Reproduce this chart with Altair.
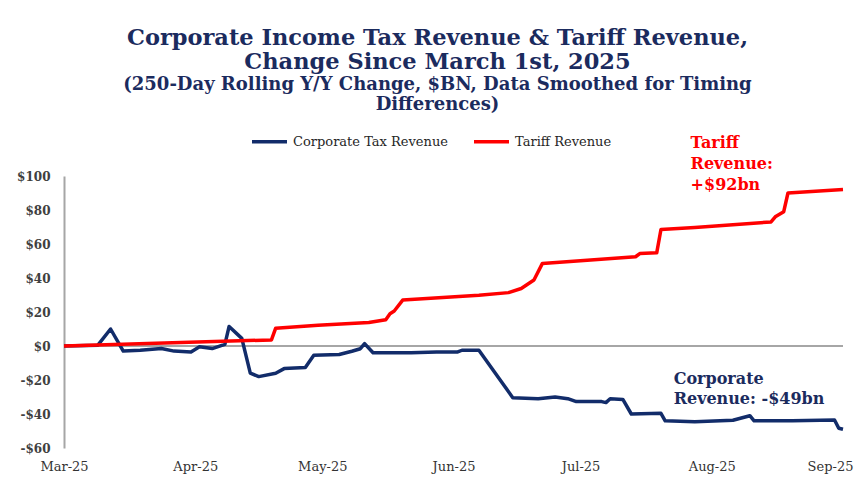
import altair as alt
import pandas as pd

# ---------------- data ----------------
corp_dates = [
    "2025-03-01", "2025-03-09", "2025-03-12", "2025-03-15", "2025-03-19",
    "2025-03-24", "2025-03-27", "2025-03-31", "2025-04-02", "2025-04-05",
    "2025-04-08", "2025-04-09", "2025-04-12", "2025-04-14", "2025-04-16",
    "2025-04-20", "2025-04-22", "2025-04-27", "2025-04-29", "2025-05-05",
    "2025-05-08", "2025-05-10", "2025-05-11", "2025-05-13", "2025-05-22",
    "2025-05-28", "2025-06-02", "2025-06-03", "2025-06-07", "2025-06-15",
    "2025-06-21", "2025-06-25", "2025-06-28", "2025-06-30", "2025-07-06",
    "2025-07-07", "2025-07-08", "2025-07-11", "2025-07-13", "2025-07-20",
    "2025-07-21", "2025-07-28", "2025-08-06", "2025-08-10", "2025-08-11",
    "2025-08-20", "2025-08-30", "2025-08-31", "2025-09-01",
]
corp_values = [
    0, 0.5, 10, -3, -2.5,
    -1.5, -3, -3.5, -0.5, -1.5,
    1, 11.5, 4.5, -16, -18,
    -16, -13.3, -12.7, -5.5, -5,
    -3.1, -1.6, 1.4, -4, -4,
    -3.5, -3.5, -2.5, -2.5, -30.4,
    -31, -30, -31, -32.7, -32.7,
    -33.3, -31, -31.4, -40, -39.6,
    -44, -44.5, -43.7, -41, -44,
    -44, -43.5, -48.4, -49,
]

tariff_dates = [
    "2025-03-01", "2025-04-19", "2025-04-20", "2025-04-30", "2025-05-12",
    "2025-05-16", "2025-05-17", "2025-05-18", "2025-05-20", "2025-06-07",
    "2025-06-14", "2025-06-17", "2025-06-20", "2025-06-22", "2025-07-14",
    "2025-07-15", "2025-07-19", "2025-07-20", "2025-07-28", "2025-08-15",
    "2025-08-16", "2025-08-18", "2025-08-19", "2025-09-01",
]
tariff_values = [
    0, 3.6, 10.5, 12.2, 13.8,
    15.5, 19, 20.6, 27, 29.8,
    31.4, 33.8, 38.8, 48.6, 52.5,
    54.4, 54.8, 68.5, 69.7, 73,
    76, 79, 90, 92,
]

series_names = ["Corporate Tax Revenue", "Tariff Revenue"]
series_colors = ["#122c6a", "#ff0000"]

y_ticks = [-60, -40, -20, 0, 20, 40, 60, 80, 100]
x_tick_months = [3, 4, 5, 6, 7, 8, 9]

title_lines = ["Corporate Income Tax Revenue & Tariff Revenue,",
               "Change Since March 1st, 2025"]
subtitle_lines = ["(250-Day Rolling Y/Y Change, $BN, Data Smoothed for Timing",
                  "Differences)"]

tariff_note_date = ["2025-07-27"]
tariff_note_value = [124]
tariff_note_text = ["Tariff\nRevenue:\n+$92bn"]

corp_note_date = ["2025-07-23"]
corp_note_value = [-14.5]
corp_note_text = ["Corporate\nRevenue: -$49bn"]

# ---------------- tables ----------------
df = pd.concat([
    pd.DataFrame({"date": corp_dates, "value": corp_values, "series": series_names[0]}),
    pd.DataFrame({"date": tariff_dates, "value": tariff_values, "series": series_names[1]}),
], ignore_index=True)

tariff_note = pd.DataFrame({"date": tariff_note_date, "value": tariff_note_value, "text": tariff_note_text})
corp_note = pd.DataFrame({"date": corp_note_date, "value": corp_note_value, "text": corp_note_text})
zero_df = pd.DataFrame({"value": [0]})

SERIF = "DejaVu Serif"
NAVY = "#1b2b5e"

x_scale = alt.Scale(
    type="utc",
    domain=[alt.DateTime(year=2025, month=3, date=1, utc=True),
            alt.DateTime(year=2025, month=9, date=1, utc=True)],
)
y_scale = alt.Scale(domain=[-60, 100], nice=False, zero=False)

x_axis = alt.Axis(
    values=[alt.DateTime(year=2025, month=m, date=1, utc=True) for m in x_tick_months],
    format="%b-%y", domain=False, ticks=False, grid=False, labelPadding=12,
    labelFont=SERIF, labelFontSize=13, labelColor="#333333",
    labelFlush=False, labelOverlap=False, title=None, tickCount=20,
    labelOffset=alt.condition("datum.index == 1", alt.value(-13), alt.value(0)),
)
y_axis = alt.Axis(
    values=y_ticks, format="$.0f", tickCount=20,
    ticks=False, grid=False, domainColor="#a6a6a6", domainWidth=2,
    labelFont=SERIF, labelFontSize=12, labelFontWeight="bold", labelColor="#404040",
    labelPadding=14, labelOverlap=False, labelFlush=False, title=None,
)

zero_rule = alt.Chart(zero_df).mark_rule(color="#a6a6a6", strokeWidth=2).encode(
    y=alt.Y("value:Q", scale=y_scale, axis=y_axis)
)

lines = alt.Chart(df).mark_line(strokeWidth=3.5, strokeJoin="round").encode(
    x=alt.X("date:T", scale=x_scale, axis=x_axis),
    y=alt.Y("value:Q", scale=y_scale, axis=y_axis),
    color=alt.Color(
        "series:N",
        scale=alt.Scale(domain=series_names, range=series_colors),
        legend=alt.Legend(
            title=None, orient="none", legendX=186, legendY=-54,
            direction="horizontal", symbolType="stroke", symbolStrokeWidth=3.5,
            symbolSize=1225, labelFont=SERIF, labelFontSize=13, labelColor="#262626",
            labelLimit=400, columnPadding=19, labelOffset=4,
        ),
    ),
    order=alt.Order("date:T"),
)

tariff_text = alt.Chart(tariff_note).mark_text(
    align="left", baseline="top", font=SERIF, fontSize=16, fontWeight="bold",
    color="#ff0000", lineBreak="\n", lineHeight=21,
).encode(x="date:T", y="value:Q", text="text:N")

corp_text = alt.Chart(corp_note).mark_text(
    align="left", baseline="top", font=SERIF, fontSize=16, fontWeight="bold",
    color=NAVY, lineBreak="\n", lineHeight=20,
).encode(x="date:T", y="value:Q", text="text:N")

chart = alt.layer(zero_rule, lines, tariff_text, corp_text).properties(
    width=779,
    height=272,
    background="white",
    autosize=alt.AutoSizeParams(type="none"),
    padding={"left": 56, "top": 168, "right": 11, "bottom": 30},
    title=alt.TitleParams(
        text=title_lines, subtitle=subtitle_lines,
        font=SERIF, fontSize=22.5, fontWeight="bold", color=NAVY, lineHeight=24,
        subtitleFont=SERIF, subtitleFontSize=18, subtitleFontWeight="bold",
        subtitleColor=NAVY, subtitleLineHeight=20, subtitlePadding=3,
        anchor="middle", dx=-16, offset=8,
    ),
).configure(
    locale={"number": {"decimal": ".", "thousands": ",", "grouping": [3],
                       "currency": ["$", ""], "minus": "-"}},
).configure_view(stroke=None)

chart.save("out.html", embed_options={"renderer": "svg", "actions": False})
